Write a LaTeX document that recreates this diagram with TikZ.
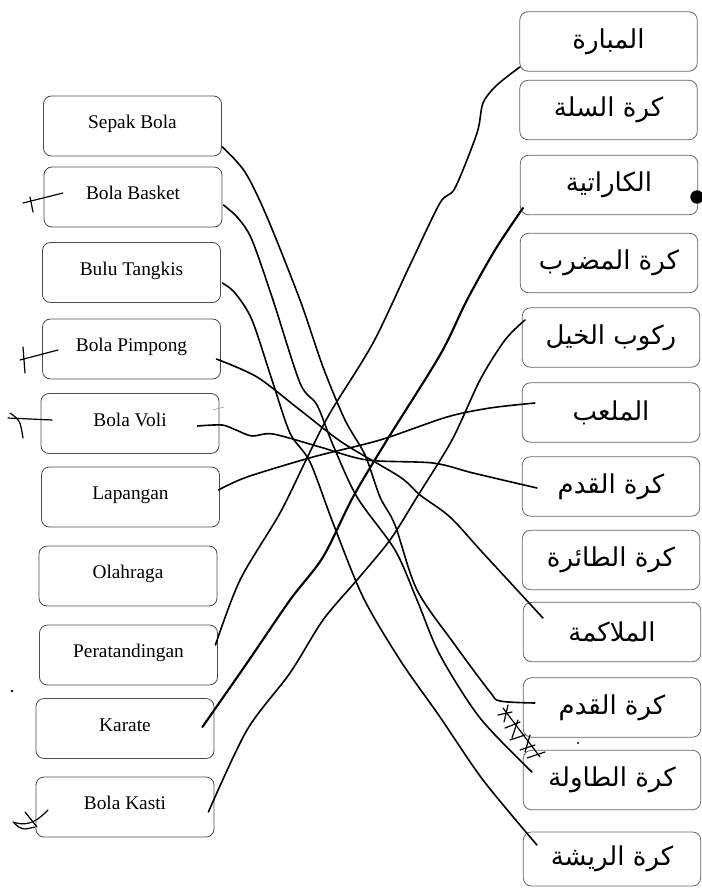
\documentclass[tikz,border=0pt]{standalone}
\usepackage{fontspec}
\setmainfont{Liberation Serif}
\newfontfamily\arabicfont[Script=Arabic]{DejaVu Sans}
\TeXXeTstate=1
\usetikzlibrary{calc}
\newcommand{\artext}[1]{{\arabicfont\beginR #1\endR}}

\begin{document}
\begin{tikzpicture}[x=0.75pt, y=-0.75pt,
    lbox/.style={draw=black!70, line width=0.6pt, rounded corners=6pt, minimum width=133.5pt, minimum height=45pt, text height=9pt, text depth=5pt, font=\fontsize{14.5}{16}\selectfont},
    rbox/.style={draw=black!60, line width=0.6pt, rounded corners=6pt, minimum width=133pt, minimum height=44.5pt, font=\arabicfont\fontsize{19.5}{24}\selectfont},
    wire/.style={line width=1.2pt, line cap=round, line join=round},
    pen/.style={line width=0.9pt, line cap=round}]
    \useasboundingbox (0,0) rectangle (701,891);
    \node[lbox] (l1) at (132.5,126) {Sepak Bola};
    \node[lbox] (l2) at (133,197) {Bola Basket};
    \node[lbox] (l3) at (131.5,272.5) {Bulu Tangkis};
    \node[lbox] (l4) at (131.5,349) {Bola Pimpong};
    \node[lbox] (l5) at (130,423.5) {Bola Voli};
    \node[lbox] (l6) at (130.5,497) {Lapangan};
    \node[lbox] (l7) at (128,576) {Olahraga};
    \node[lbox] (l8) at (128.5,655) {Peratandingan};
    \node[lbox] (l9) at (125,728.5) {Karate};
    \node[lbox] (l10) at (125,807) {Bola Kasti};
    \node[rbox] (r1) at (608.5,41.5) {\artext{المبارة}};
    \node[rbox] (r2) at (608.5,110) {\artext{كرة السلة}};
    \node[rbox] (r3) at (609,185) {\artext{الكاراتية}};
    \node[rbox] (r4) at (609,263) {\artext{كرة المضرب}};
    \node[rbox] (r5) at (611,337.5) {\artext{ركوب الخيل}};
    \node[rbox] (r6) at (611,412.5) {\artext{الملعب}};
    \node[rbox] (r7) at (611,486.5) {\artext{كرة القدم}};
    \node[rbox] (r8) at (611,560) {\artext{كرة الطائرة}};
    \node[rbox] (r9) at (612,632) {\artext{الملاكمة}};
    \node[rbox] (r10) at (612,707.5) {\artext{كرة القدم}};
    \node[rbox] (r11) at (612,780) {\artext{كرة الطاولة}};
    \node[rbox, minimum height=40.5pt] (r12) at (612,859) {\artext{كرة الريشة}};
    \coordinate (a1) at ($(l1.east)+(0.5,21)$);
    \coordinate (a2) at ($(l2.east)+(1,8)$);
    \coordinate (a3) at ($(l3.east)+(1.5,10.5)$);
    \coordinate (a4) at ($(l4.east)+(-4.5,10)$);
    \coordinate (a5) at ($(l5.east)+(-22,2.5)$);
    \coordinate (a6) at ($(l6.east)+(-1.5,-7)$);
    \coordinate (a8) at ($(l8.east)+(-2.5,-10)$);
    \coordinate (a9) at ($(l9.east)+(-12,-1.5)$);
    \coordinate (a10) at ($(l10.east)+(-6,5)$);
    \coordinate (b1) at ($(r1.west)+(0.5,25.5)$);
    \coordinate (b3) at ($(r3.west)+(3,23)$);
    \coordinate (b5) at ($(r5.west)+(3,-17.5)$);
    \coordinate (b6) at ($(r6.west)+(13,-9.5)$);
    \coordinate (b7) at ($(r7.west)+(15,1.5)$);
    \coordinate (b9) at ($(r9.west)+(20,-14)$);
    \coordinate (b10) at ($(r10.west)+(12,-4.5)$);
    \coordinate (b11) at ($(r11.west)+(9,-8)$);
    \coordinate (b12) at ($(r12.west)+(14,-14)$);
    \draw[wire] plot[smooth] coordinates {(a1) (245,172) (267,217) (300,300) (323,367) (345,420) (365,455) (380,497) (395,525) (417,590) (455,645) (490,692) (500,701) (b10)};
    \draw[wire] plot[smooth] coordinates {(a2) (238,218) (252,240) (273,300) (300,383) (317,405) (333,445) (357,497) (395,550) (417,600) (440,655) (480,718) (b11)};
    \draw[wire] plot[smooth] coordinates {(a3) (235,293) (252,320) (272,380) (290,433) (310,462) (333,523) (363,597) (400,660) (440,717) (483,780) (b12)};
    \draw[wire] plot[smooth] coordinates {(a4) (257,377) (300,410) (343,443) (400,477) (420,495) (450,517) (483,553) (b9)};
    \draw[wire] plot[smooth] coordinates {(a5) (222,425) (236,430) (252,436) (273,434) (320,447) (367,460) (433,463) (473,473) (b7)};
    \draw[wire] plot[smooth] coordinates {(a6) (247,477) (313,457) (380,440) (447,417) (490,408) (b6)};
    \draw[wire] plot[smooth] coordinates {(a8) (240,580) (280,513) (307,458) (330,413) (373,343) (410,265) (440,203) (455,188) (477,133) (483,103) (497,85) (b1)};
    \draw[wire, line width=1.6pt] plot[smooth] coordinates {(a9) (247,663) (290,600) (323,557) (353,497) (387,440) (440,355) (467,300) (495,250) (b3)};
    \draw[wire] plot[smooth] coordinates {(a10) (247,730) (290,673) (323,620) (357,580) (390,540) (417,497) (452,440) (480,380) (505,340) (b5)};
    \draw[pen] (23,203) -- (63,193);
    \draw[pen] (30,197) .. controls (31,204) .. (33,212);
    \draw[pen] (20,360) -- (58,350);
    \draw[pen] (23,347) -- (25,373);
    \draw[pen] (8,418) -- (52,420);
    \draw[pen] (10,413) .. controls (20,420) .. (23,438);
    \draw[pen] (13,822) .. controls (30,828) and (40,818) .. (48,810);
    \draw[pen] (25,812) -- (37,827);
    \draw[pen] (14,823) .. controls (22,830) .. (35,827);
    \draw[pen] (503,708) -- (540,757);
    \draw[pen] (498,715) -- (512,712);
    \draw[pen] (505,728) -- (520,722);
    \draw[pen] (510,740) -- (525,735);
    \draw[pen] (520,750) -- (535,745);
    \draw[pen] (527,758) -- (545,752);
    \draw[pen] (508,705) -- (504,722);
    \draw[pen] (518,720) -- (512,738);
    \draw[pen] (530,735) -- (525,752);
    \draw[black!40, line width=0.5pt] (213,410) -- (224,407);
    \fill (697,197) circle (5pt);
    \fill (12,691) circle (1pt);
    \fill (578,743) circle (0.8pt);
\end{tikzpicture}
\end{document}
